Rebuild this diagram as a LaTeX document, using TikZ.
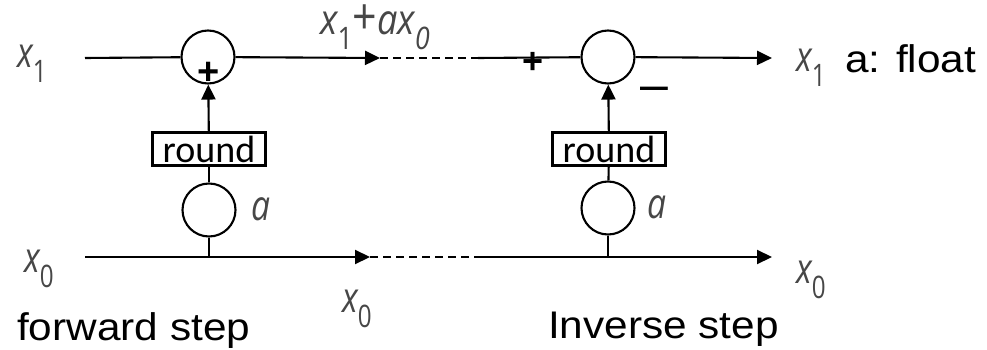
\documentclass[tikz,border=0pt]{standalone}
\usepackage{fontspec}
\setmainfont{Liberation Sans}
\newfontfamily\mfont{Open Sans}
\newfontfamily\rfont{Carlito}
\usetikzlibrary{arrows.meta}
\definecolor{mgray}{HTML}{474747}
\newcommand{\fs}[1]{\fontsize{#1}{#1}\selectfont}
\newcommand{\mx}[1]{\scalebox{0.78}[1]{\mfont\color{mgray}\fs{42}\itshape x\raisebox{-15pt}{\upshape\fs{31}#1}}}
\newcommand{\ma}{\scalebox{0.8}[1]{\mfont\color{mgray}\fs{42}\itshape a}}
\newcommand{\wide}[1]{\scalebox{1.1}[1]{\fs{38.5}#1}}
\begin{document}
\begin{tikzpicture}[x=1pt,y=-1pt,
  sum/.style={circle, draw, line width=2.1pt, minimum size=53pt, inner sep=0pt},
  rbox/.style={draw, line width=2.1pt, minimum width=113pt, minimum height=33pt, inner sep=0pt, font=\rfont\fs{38}},
  wire/.style={line width=2.1pt},
  arr/.style={wire, -{Triangle[length=15pt,width=14pt]}},
  dwire/.style={wire, dash pattern=on 8pt off 5pt},
  lbl/.style={inner sep=0pt, anchor=base west},
  sign/.style={inner sep=0pt, font=\bfseries\fs{38}}]
\useasboundingbox (0,0) rectangle (987,350);
% coordinates
\coordinate (t0) at (85,58);
\coordinate (t1) at (380,58);
\coordinate (t2) at (478,58);
\coordinate (t3) at (772,58);
\coordinate (b0) at (85,257);
\coordinate (b1) at (370,257);
\coordinate (b2) at (480,257);
\coordinate (b3) at (772,257);
\coordinate (j1) at (208,257);
\coordinate (j2) at (608,257);
% blocks
\node[sum] (c1) at (208,57) {};
\node[sum] (c2) at (608,57) {};
\node[rbox] (r1) at (209,149) {round};
\node[rbox] (r2) at (609,149) {round};
\node[sum] (a1) at (209,210) {};
\node[sum] (a2) at (608,208) {};
% top path
\draw[wire] (t0) -- (c1);
\draw[arr] (c1) -- (t1);
\draw[dwire] (t1) -- (t2);
\draw[wire] (t2) -- (c2);
\draw[arr] (c2) -- (t3);
% bottom path
\draw[arr] (b0) -- (b1);
\draw[dwire] (b1) -- (b2);
\draw[arr] (b2) -- (b3);
% verticals
\draw[wire] (a1.south) -- (a1.south|-j1);
\draw[wire] (a1) -- (r1);
\draw[arr] (r1) -- (c1);
\draw[wire] (a2.south) -- (a2.south|-j2);
\draw[wire] (a2) -- (r2);
\draw[arr] (r2) -- (c2);
% signs
\node[sign] (p1) at (209,73) {+};
\node[sign, font=\bfseries\fs{36}] (p2) at (533,63) {+};
\node[sign, font=\fs{50}] (m2) at (654,94) {–};
% math labels
\node[lbl] (x1l) at (17,68) {\mx{1}};
\node[lbl] (x1r) at (796,72) {\mx{1}};
\node[lbl] (x0l) at (24,272) {\mx{0}};
\node[lbl] (x0m) at (342,312) {\mx{0}};
\node[lbl] (x0r) at (796,283) {\mx{0}};
\node[lbl] (sumlbl) at (320,35) {\scalebox{0.86}[1]{\mfont\color{mgray}\fs{42}\itshape x\raisebox{-15pt}{\upshape\fs{31}1}\upshape\fs{50}+\itshape\fs{42}ax\raisebox{-15pt}{\fs{31}0}}};
\node[lbl] (al) at (251,220) {\ma};
\node[lbl] (ar) at (647,218) {\ma};
% text labels
\node[lbl] (fw) at (17,340) {\wide{forward step}};
\node[lbl] (inv) at (548,338) {\wide{Inverse step}};
\node[lbl] (af) at (845,73) {\wide{a: float}};
\end{tikzpicture}
\end{document}
